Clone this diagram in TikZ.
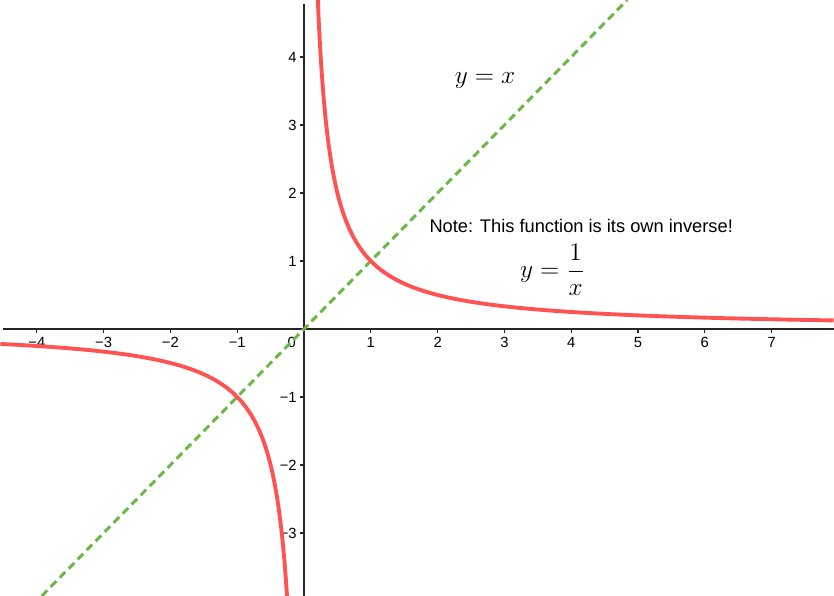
\documentclass[tikz,border=0pt]{standalone}
\usepackage{amsmath}
\usepackage{fontspec}
\setmainfont{Liberation Sans}
\usetikzlibrary{positioning}
\definecolor{curvered}{RGB}{255,82,82}
\definecolor{linegreen}{RGB}{108,183,72}

\begin{document}
\begin{tikzpicture}[x=1.336cm, y=1.36cm,
  axis/.style={line width=0.75pt, black!85},
  tickmark/.style={line width=0.75pt, black!85},
  graph/.style={line width=2.2pt, curvered},
  mirror/.style={line width=1.7pt, linegreen, dash pattern=on 4.5pt off 2.8pt},
  xlbl/.style={anchor=north, inner sep=0pt, font=\fontsize{8.4}{10}\selectfont},
  ylbl/.style={anchor=east, inner sep=0pt, font=\fontsize{8.4}{10}\selectfont},
  mathlbl/.style={font=\fontsize{13.5}{16}\selectfont}]
  \useasboundingbox (-4.551,-3.926) rectangle (7.934,4.838);
  % axes
  \coordinate (xl) at (-4.51,0);
  \coordinate (xr) at (7.934,0);
  \coordinate (yb) at (0,-3.926);
  \coordinate (yt) at (0,4.779);
  \draw[axis] (xl) -- (xr);
  \draw[axis] (yb) -- (yt);
  % ticks and their numbers
  \foreach \k/\t [count=\i] in {-4/−4,-3/−3,-2/−2,-1/−1,1/1,2/2,3/3,4/4,5/5,6/6,7/7} {
    \draw[tickmark] (\k,0) -- (\k,-0.059);
    \node[xlbl] (xt\i) at (\k,-0.118) {\t};
  }
  \foreach \k/\t [count=\i] in {-3/−3,-2/−2,-1/−1,1/1,2/2,3/3,4/4} {
    \draw[tickmark] (0,\k) -- (-0.06,\k);
    \node[ylbl] (yt\i) at (-0.105,\k) {\t};
  }
  \node[xlbl] (zero) at (-0.184,-0.118) {0};
  % y = x, dashed
  \coordinate (lb) at (-3.926,-3.926);
  \coordinate (lt) at (4.838,4.838);
  \draw[mirror] (lb) -- (lt);
  % the two branches of 1/x
  \draw[graph] plot[domain=-1.5765:2.0712, samples=200] ({exp(\x)},{exp(-\x)});
  \draw[graph] plot[domain=-1.3677:1.5153, samples=200] ({-exp(\x)},{-exp(-\x)});
  % labels
  \node[mathlbl] (lblline) at (2.71,3.66) {$y=x$};
  \node[font=\fontsize{10.4}{12}\selectfont] (note) at (4.15,1.51) {Note: This function is its own inverse!};
  \node[mathlbl] (lblcurve) at (3.72,0.868) {$y=\dfrac{1}{x}$};
\end{tikzpicture}
\end{document}
